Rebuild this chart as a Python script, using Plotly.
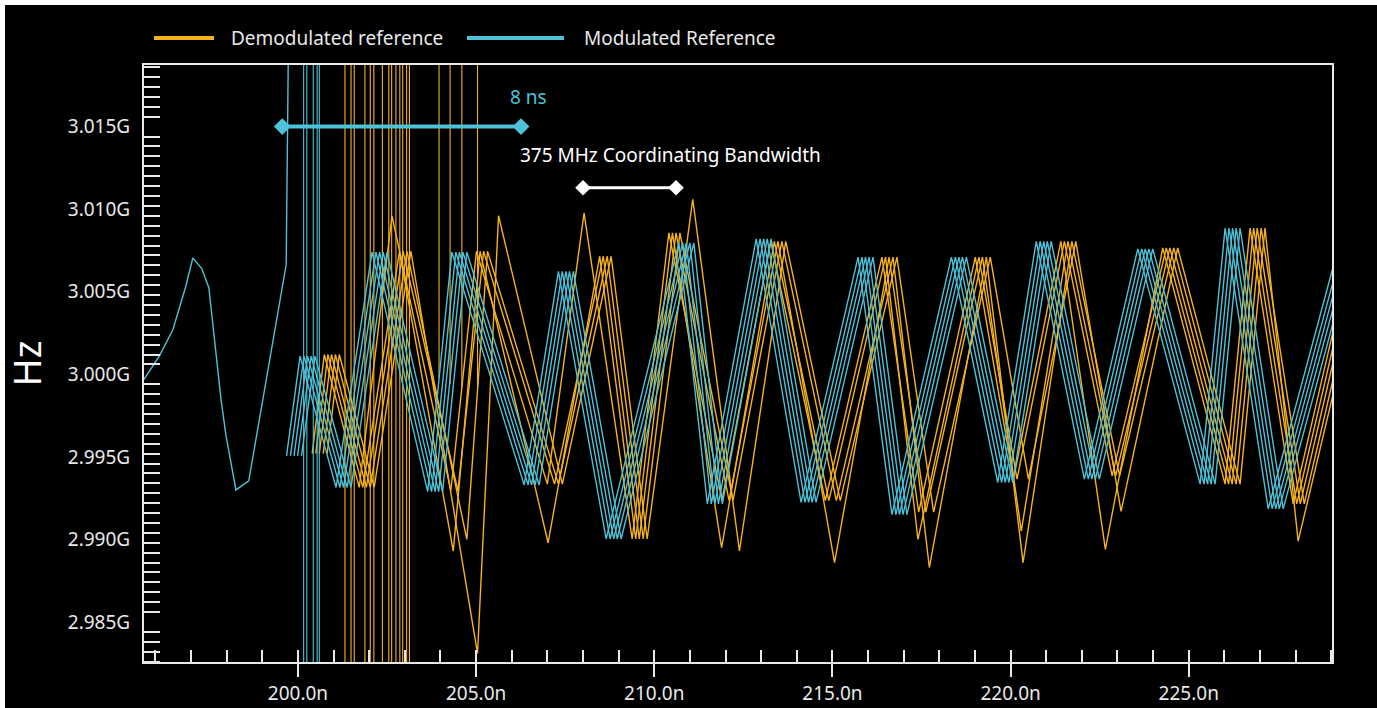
import plotly.graph_objects as go

NS = 1e-9
MHZ = 1e6

# ---------------- data (time in ns, frequency in MHz) ----------------
# Modulated reference: vertices of the leading copy
blue_t = [199.68, 200.06, 201.07, 202.08, 203.64, 204.32, 206.35, 207.31, 208.65, 210.69,
          211.49, 212.86, 214.12, 215.72, 216.67, 218.34, 219.64, 220.72, 222.07, 223.57,
          225.32, 226.02, 227.23, 229.05]
blue_f = [2995.06, 3001.1, 2993.15, 3007.4, 2992.9, 3007.4, 2993.3, 3006.24, 2990.03, 3007.96,
          2992.15, 3008.2, 2992.25, 3007.1, 2991.5, 3007.1, 2993.45, 3008.05, 2993.65, 3007.6,
          2993.35, 3008.86, 2991.85, 3006.5]
blue_shifts = [0.0, 0.11, 0.21, 0.31, 0.42]

# initial single modulated trace
blue_pre_t = [195.65, 196.11, 196.49, 196.85, 197.05, 197.30, 197.50, 197.84, 197.98, 198.26,
              198.62, 199.67, 199.78]
blue_pre_f = [2999.6, 3001.1, 3002.7, 3005.3, 3007.05, 3006.4, 3005.24, 2998.5, 2996.3, 2993.0,
              2993.55, 3006.65, 3030.0]

# full-height glitches
blue_spike_t = [200.16, 200.25, 200.43, 200.54, 200.60]

# Demodulated reference: vertices of the leading copy
orange_t = [200.40, 200.74, 201.72, 202.75, 204.29, 205.01, 207.00, 208.37, 209.38, 210.41,
            211.90, 213.27, 214.80, 216.39, 217.42, 219.01, 220.08, 221.41, 222.75, 224.27,
            226.02, 226.72, 227.93, 229.05]
orange_f = [2995.2, 3001.2, 2993.15, 3007.45, 2992.95, 3007.45, 2993.35, 3007.15, 2990.03, 3008.56,
            2992.35, 3008.05, 2992.35, 3007.1, 2991.65, 3007.1, 2993.65, 3008.05, 2993.85, 3007.65,
            2993.35, 3008.86, 2992.15, 3002.6]
orange_shifts = [0.0, 0.10, 0.20, 0.31, 0.42]

# individual vertices that deviate in particular copies
orange_fix_copy = [0, 1, 3, 4, 4, 1, 0, 4, 1, 4, 2, 1, 3, 2, 3, 0, 4, 4]
orange_fix_idx = [3, 4, 4, 4, 5, 6, 7, 9, 10, 10, 12, 14, 14, 16, 16, 18, 18, 22]
orange_fix_t = [202.64, 204.36, 204.74, 205.04, 205.63, 207.02, 208.03, 211.08, 211.89, 212.39,
                215.06, 217.40, 217.72, 220.30, 220.35, 222.66, 223.10, 228.07]
orange_fix_f = [3009.6, 2989.3, 2990.0, 2983.1, 3009.6, 2989.8, 3009.77, 3010.6, 2989.5, 2989.3,
                2988.6, 2990.0, 2988.3, 2990.5, 2988.6, 2989.4, 2991.7, 2989.9]

orange_spike_t = [201.32, 201.49, 201.58, 201.88, 202.03, 202.13, 202.37, 202.55, 202.63,
                  202.75, 202.86, 202.94, 203.05, 203.13]
orange_top_spike_t = [203.96, 204.27, 204.60, 205.04]
orange_top_spike_f = [2999.8, 2999.4, 2999.2, 2999.2]

# annotation spans
span8_t = [199.56, 206.26]
span8_f = [3015.0, 3015.0]
bw_t = [208.00, 210.61]
bw_f = [3011.3, 3011.3]

BLUE = "#4DC2D8"
ORANGE = "#F6B21F"
FG = "#e8e8e8"
FONT = "Noto Sans"

fig = go.Figure()


def copies(ts, fs, shifts, fixes=None):
    xs, ys = [], []
    for c, s in enumerate(shifts):
        tt = [t + s for t in ts]
        ff = list(fs)
        if fixes:
            for fc, fi, ft, fv in zip(*fixes):
                if fc == c:
                    tt[fi] = ft
                    ff[fi] = fv
        xs += [t * NS for t in tt] + [None]
        ys += [f * MHZ for f in ff] + [None]
    return xs, ys


def spikes(ts, lo, hi):
    xs, ys = [], []
    for i, t in enumerate(ts):
        b = lo[i] if isinstance(lo, list) else lo
        xs += [t * NS, t * NS, None]
        ys += [b * MHZ, hi * MHZ, None]
    return xs, ys


# Demodulated (orange)
ox, oy = copies(orange_t, orange_f, orange_shifts,
                (orange_fix_copy, orange_fix_idx, orange_fix_t, orange_fix_f))
fig.add_trace(go.Scatter(x=ox, y=oy, mode="lines", line=dict(color=ORANGE, width=1.4),
                         name="Demodulated reference", showlegend=False))
sx, sy = spikes(orange_spike_t, 2970.0, 3030.0)
fig.add_trace(go.Scatter(x=sx, y=sy, mode="lines", line=dict(color=ORANGE, width=1.1),
                         showlegend=False, hoverinfo="skip"))
sx, sy = spikes(orange_top_spike_t, orange_top_spike_f, 3030.0)
fig.add_trace(go.Scatter(x=sx, y=sy, mode="lines", line=dict(color=ORANGE, width=1.1),
                         showlegend=False, hoverinfo="skip"))

# Modulated (blue)
fig.add_trace(go.Scatter(x=[t * NS for t in blue_pre_t], y=[f * MHZ for f in blue_pre_f],
                         mode="lines", line=dict(color=BLUE, width=1.4), showlegend=False))
bx, by = copies(blue_t, blue_f, blue_shifts)
fig.add_trace(go.Scatter(x=bx, y=by, mode="lines", line=dict(color=BLUE, width=1.4),
                         name="Modulated Reference", showlegend=False))
sx, sy = spikes(blue_spike_t, 2970.0, 3030.0)
fig.add_trace(go.Scatter(x=sx, y=sy, mode="lines", line=dict(color=BLUE, width=1.1),
                         showlegend=False, hoverinfo="skip"))

# span markers
fig.add_trace(go.Scatter(x=[t * NS for t in span8_t], y=[f * MHZ for f in span8_f],
                         mode="lines+markers", line=dict(color=BLUE, width=4),
                         marker=dict(symbol="diamond", size=13, color=BLUE),
                         showlegend=False, hoverinfo="skip"))
fig.add_trace(go.Scatter(x=[t * NS for t in bw_t], y=[f * MHZ for f in bw_f],
                         mode="lines+markers", line=dict(color="white", width=3),
                         marker=dict(symbol="diamond", size=12, color="white"),
                         showlegend=False, hoverinfo="skip"))

fig.add_annotation(x=206.46 * NS, y=3016.8 * MHZ, text="8 ns", showarrow=False,
                   font=dict(family=FONT, size=19, color=BLUE))
fig.add_annotation(x=210.45 * NS, y=3013.3 * MHZ, text="375 MHz Coordinating Bandwidth",
                   showarrow=False, font=dict(family=FONT, size=19, color="white"))

# legend (drawn manually to match long legend lines)
L, T, W, H = 144, 65, 1188, 597


def px(x):
    return (x - L) / W


def py(y):
    return (T + H - y) / H


# thin white frame on the left and top edges of the picture
fig.add_shape(type="rect", xref="paper", yref="paper", x0=px(-2), x1=px(5), y0=py(712), y1=py(-2),
              fillcolor="white", line=dict(width=0), layer="below")
fig.add_shape(type="rect", xref="paper", yref="paper", x0=px(-2), x1=px(1380), y0=py(5), y1=py(-2),
              fillcolor="white", line=dict(width=0), layer="below")
fig.add_shape(type="line", xref="paper", yref="paper", x0=px(154), x1=px(214), y0=py(38), y1=py(38),
              line=dict(color=ORANGE, width=4))
fig.add_shape(type="line", xref="paper", yref="paper", x0=px(467), x1=px(564), y0=py(38), y1=py(38),
              line=dict(color=BLUE, width=4))
fig.add_annotation(xref="paper", yref="paper", x=px(229), y=py(38), xanchor="left", yanchor="middle",
                   text="Demodulated reference", showarrow=False,
                   font=dict(family=FONT, size=19, color=FG))
fig.add_annotation(xref="paper", yref="paper", x=px(582), y=py(38), xanchor="left", yanchor="middle",
                   text="Modulated Reference", showarrow=False,
                   font=dict(family=FONT, size=19, color=FG))

fig.update_layout(
    width=1377, height=708,
    margin=dict(l=L, r=1377 - L - W, t=T, b=708 - T - H, autoexpand=False),
    paper_bgcolor="black", plot_bgcolor="black",
    showlegend=False,
    font=dict(family=FONT, color=FG),
    xaxis=dict(range=[195.68 * NS, 229.02 * NS], showgrid=False, zeroline=False, automargin=False,
               showline=True, linecolor=FG, linewidth=2, mirror=True,
               ticks="outside", ticklen=13, tickwidth=1.5, tickcolor=FG,
               tick0=0, dtick=5 * NS, tickformat=".4s",
               tickfont=dict(family=FONT, size=19, color=FG),
               minor=dict(ticks="inside", ticklen=12, tickwidth=1.5, tickcolor=FG,
                          tick0=0, dtick=1 * NS, showgrid=False)),
    yaxis=dict(range=[2982.58 * MHZ, 3018.73 * MHZ], showgrid=False, zeroline=False, automargin=False,
               showline=True, linecolor=FG, linewidth=2, mirror=True,
               ticks="", tick0=3000 * MHZ, dtick=5 * MHZ, tickformat=".4s",
               ticklabelstandoff=8,
               tickfont=dict(family=FONT, size=19, color=FG),
               minor=dict(ticks="inside", ticklen=16, tickwidth=2, tickcolor=FG,
                          tick0=3015 * MHZ, dtick=0.6 * MHZ, showgrid=False),
               title=dict(text="Hz", font=dict(family=FONT, size=38, color="white"), standoff=18)),
)

fig.write_html("out.html")
